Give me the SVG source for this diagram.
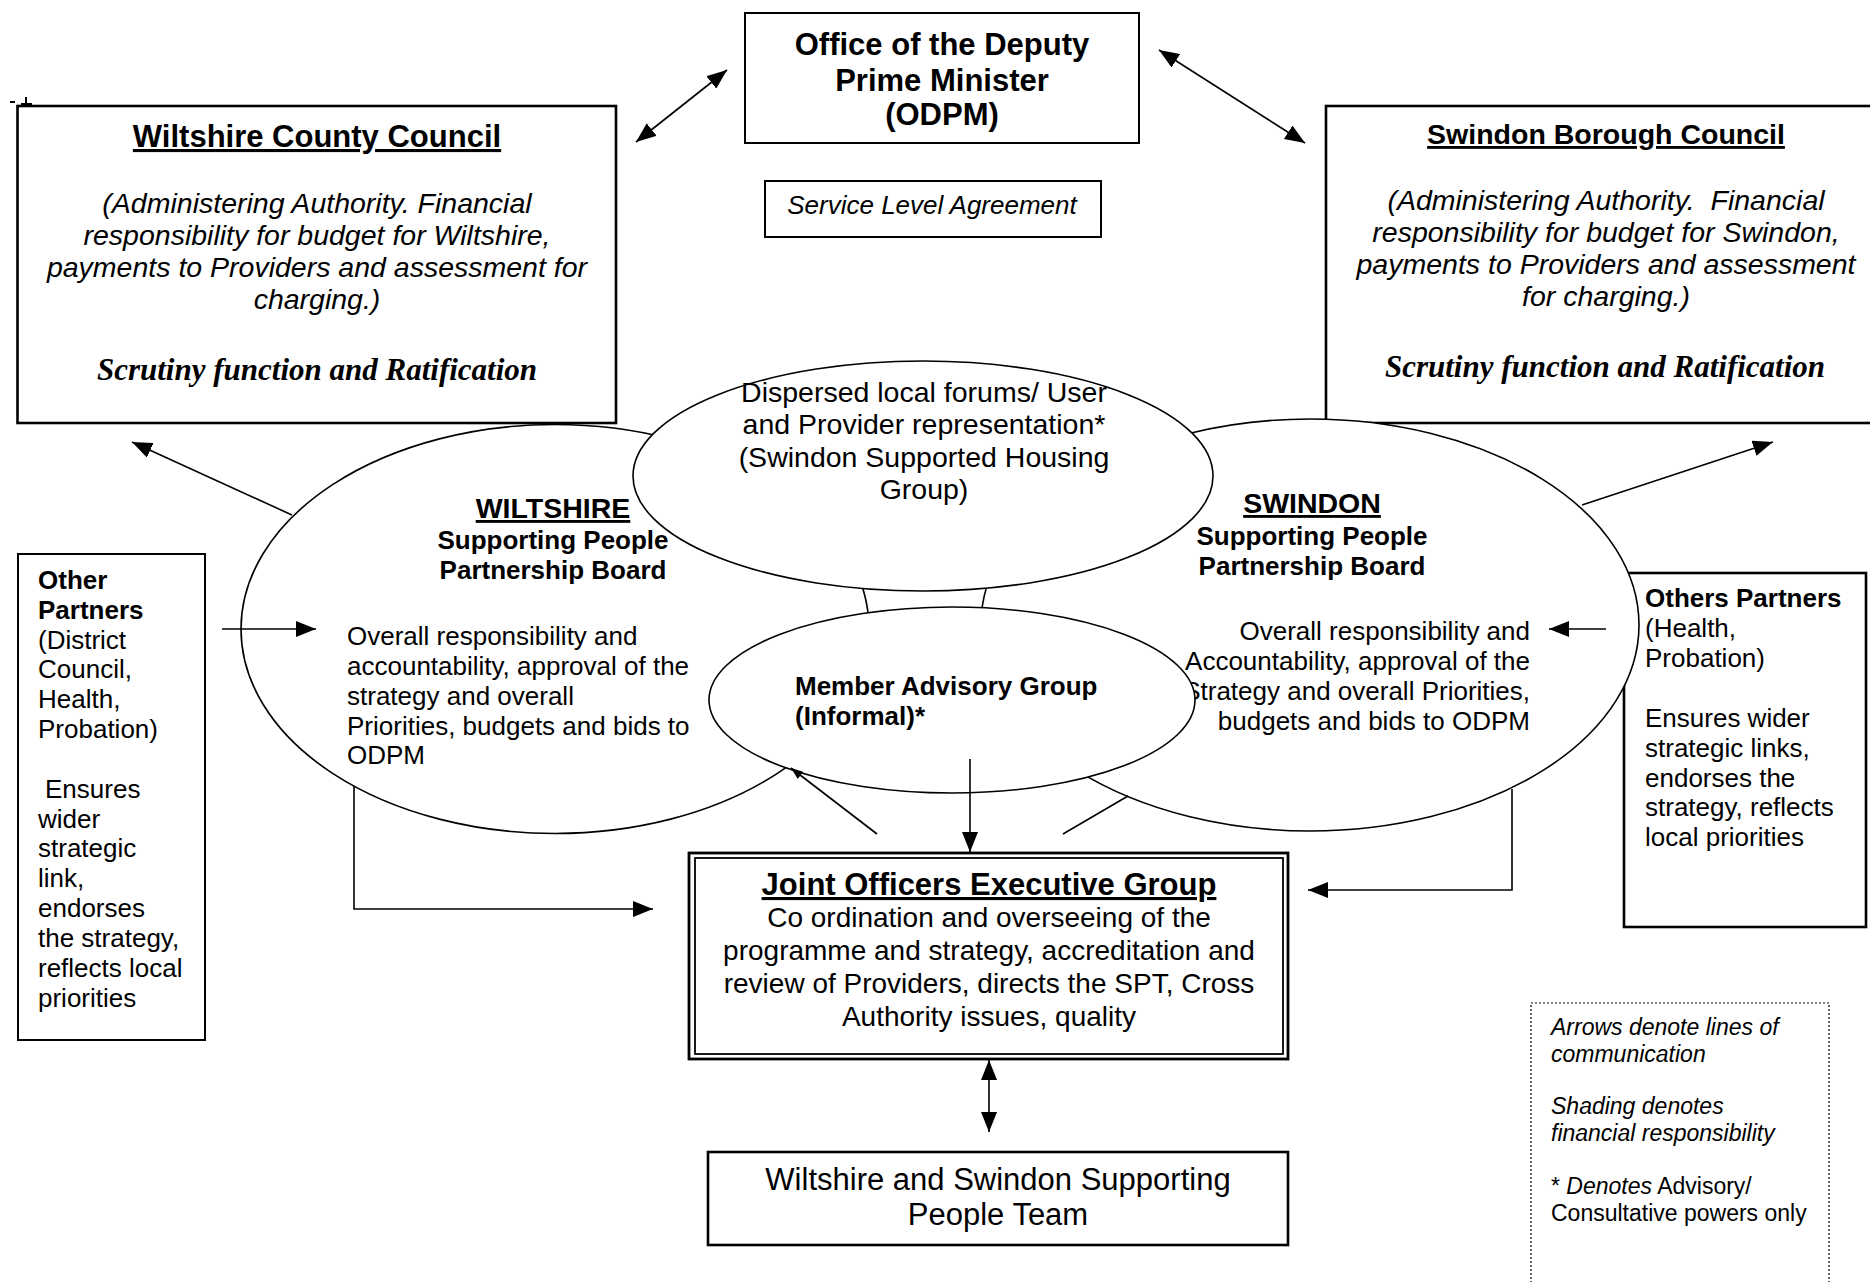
<svg xmlns="http://www.w3.org/2000/svg" width="1870" height="1282" viewBox="0 0 1870 1282">
<style>
text{font-family:"Liberation Sans",Arial,sans-serif;fill:#000}
.box{fill:#fff;stroke:#000;stroke-width:2}
.thick{stroke-width:2.6}
.ell{fill:#fff;stroke:#000;stroke-width:1.6}
.b31{font-size:31px;font-weight:bold}
.b28{font-size:28.5px;font-weight:bold}
.b26{font-size:26px;font-weight:bold}
.r26{font-size:26px}
.r28{font-size:28px}
.r285{font-size:28.5px}
.r31{font-size:31px}
.i28{font-size:28.5px;font-style:italic}
.i26{font-size:26px;font-style:italic}
.i23{font-size:23px;font-style:italic}
.r23{font-size:23px}
.scr{font-family:"Liberation Serif","Times New Roman",serif;font-size:31px;font-weight:bold;font-style:italic}
.u{text-decoration:underline}
.c{text-anchor:middle}
.e{text-anchor:end}
.ln{fill:none;stroke:#000;stroke-width:1.6}
</style>
<defs>
<marker id="ah" markerUnits="userSpaceOnUse" viewBox="0 0 20 16" markerWidth="20" markerHeight="16" refX="20" refY="8" orient="auto-start-reverse"><path d="M0,0 L20,8 L0,16 Z" fill="#000"/></marker>
<marker id="ahs" markerUnits="userSpaceOnUse" viewBox="0 0 12 9" markerWidth="12" markerHeight="9" refX="12" refY="4.5" orient="auto"><path d="M0,0 L12,4.5 L0,9 Z" fill="#000"/></marker>
</defs>
<rect width="1870" height="1282" fill="#fff"/>

<g id="anchor-mark" stroke="#000" stroke-width="2">
<line x1="10" y1="102" x2="15" y2="102"/>
<line x1="21" y1="104" x2="32" y2="104"/>
<line x1="26" y1="97" x2="26" y2="110"/>
</g>

<g id="odpm">
<rect class="box" x="745" y="13" width="394" height="130" stroke-width="1.8"/>
<text class="b31 c" x="942" y="55">Office of the Deputy</text>
<text class="b31 c" x="942" y="91">Prime Minister</text>
<text class="b31 c" x="942" y="125">(ODPM)</text>
</g>

<g id="sla">
<rect class="box" x="765" y="181" width="336" height="56"/>
<text class="i26 c" x="932" y="214">Service Level Agreement</text>
</g>

<g id="wiltshire-county-council">
<rect class="box thick" x="17.5" y="106" width="598.5" height="317"/>
<text class="b31 c u" x="317" y="147">Wiltshire County Council</text>
<text class="i28 c" x="317" y="213">(Administering Authority. Financial</text>
<text class="i28 c" x="317" y="245">responsibility for budget for Wiltshire,</text>
<text class="i28 c" x="317" y="277">payments to Providers and assessment for</text>
<text class="i28 c" x="317" y="309">charging.)</text>
<text class="scr c" x="317" y="380">Scrutiny function and Ratification</text>
</g>

<g id="swindon-borough-council">
<rect class="box thick" x="1326" y="106" width="560" height="317"/>
<text class="b28 c u" x="1606" y="144">Swindon Borough Council</text>
<text class="i28 c" x="1606" y="210" xml:space="preserve">(Administering Authority.  Financial</text>
<text class="i28 c" x="1606" y="242">responsibility for budget for Swindon,</text>
<text class="i28 c" x="1606" y="274">payments to Providers and assessment</text>
<text class="i28 c" x="1606" y="306">for charging.)</text>
<text class="scr c" x="1605" y="377">Scrutiny function and Ratification</text>
</g>

<g id="other-partners-left">
<rect class="box" x="18" y="554" width="187" height="486"/>
<text class="b26" x="38" y="589">Other</text>
<text class="b26" x="38" y="619">Partners</text>
<text class="r26" x="38" y="649">(District</text>
<text class="r26" x="38" y="678">Council,</text>
<text class="r26" x="38" y="708">Health,</text>
<text class="r26" x="38" y="738">Probation)</text>
<text class="r26" x="45" y="798">Ensures</text>
<text class="r26" x="38" y="828">wider</text>
<text class="r26" x="38" y="857">strategic</text>
<text class="r26" x="38" y="887">link,</text>
<text class="r26" x="38" y="917">endorses</text>
<text class="r26" x="38" y="947">the strategy,</text>
<text class="r26" x="38" y="977">reflects local</text>
<text class="r26" x="38" y="1007">priorities</text>
</g>

<g id="other-partners-right">
<rect class="box thick" x="1624" y="573" width="242" height="354"/>
<text class="b26" x="1645" y="607">Others Partners</text>
<text class="r26" x="1645" y="637">(Health,</text>
<text class="r26" x="1645" y="667">Probation)</text>
<text class="r26" x="1645" y="727">Ensures wider</text>
<text class="r26" x="1645" y="757">strategic links,</text>
<text class="r26" x="1645" y="787">endorses the</text>
<text class="r26" x="1645" y="816">strategy, reflects</text>
<text class="r26" x="1645" y="846">local priorities</text>
</g>

<g id="wiltshire-board">
<ellipse class="ell" cx="555" cy="629" rx="314" ry="204.5"/>
<text class="b28 c u" x="553" y="518">WILTSHIRE</text>
<text class="b26 c" x="553" y="549">Supporting People</text>
<text class="b26 c" x="553" y="579">Partnership Board</text>
<text class="r26" x="347" y="645">Overall responsibility and</text>
<text class="r26" x="347" y="675">accountability, approval of the</text>
<text class="r26" x="347" y="705">strategy and overall</text>
<text class="r26" x="347" y="735">Priorities, budgets and bids to</text>
<text class="r26" x="347" y="764">ODPM</text>
</g>

<g id="swindon-board">
<ellipse class="ell" cx="1310" cy="625" rx="329" ry="206"/>
<text class="b28 c u" x="1312" y="513">SWINDON</text>
<text class="b26 c" x="1312" y="545">Supporting People</text>
<text class="b26 c" x="1312" y="575">Partnership Board</text>
<text class="r26 e" x="1530" y="640">Overall responsibility and</text>
<text class="r26 e" x="1530" y="670">Accountability, approval of the</text>
<text class="r26 e" x="1530" y="700">Strategy and overall Priorities,</text>
<text class="r26 e" x="1530" y="730">budgets and bids to ODPM</text>
</g>

<g id="dispersed-forums">
<ellipse class="ell" cx="923" cy="476" rx="290" ry="115"/>
<text class="r285 c" x="924" y="402">Dispersed local forums/ User</text>
<text class="r285 c" x="924" y="434">and Provider representation*</text>
<text class="r285 c" x="924" y="467">(Swindon Supported Housing</text>
<text class="r285 c" x="924" y="499">Group)</text>
</g>

<g id="member-advisory-group">
<ellipse class="ell" cx="952" cy="700" rx="243" ry="93"/>
<text class="b26" x="795" y="695">Member Advisory Group</text>
<text class="b26" x="795" y="725">(Informal)*</text>
</g>

<g id="joint-officers-executive-group">
<rect x="689" y="853" width="599" height="206" fill="#fff" stroke="#000" stroke-width="2.8"/>
<rect x="695" y="858" width="588" height="196" fill="none" stroke="#000" stroke-width="1.8"/>
<text class="b31 c u" x="989" y="895">Joint Officers Executive Group</text>
<text class="r28 c" x="989" y="927">Co ordination and overseeing of the</text>
<text class="r28 c" x="989" y="960">programme and strategy, accreditation and</text>
<text class="r28 c" x="989" y="993">review of Providers, directs the SPT, Cross</text>
<text class="r28 c" x="989" y="1026">Authority issues, quality</text>
</g>

<g id="supporting-people-team">
<rect class="box thick" x="708" y="1152" width="580" height="93"/>
<text class="r31 c" x="998" y="1190">Wiltshire and Swindon Supporting</text>
<text class="r31 c" x="998" y="1225">People Team</text>
</g>

<g id="legend">
<rect x="1531" y="1003" width="298" height="300" fill="none" stroke="#000" stroke-width="1.2" stroke-dasharray="2,2"/>
<text class="i23" x="1551" y="1035">Arrows denote lines of</text>
<text class="i23" x="1551" y="1062">communication</text>
<text class="i23" x="1551" y="1114">Shading denotes</text>
<text class="i23" x="1551" y="1141">financial responsibility</text>
<text class="r23" x="1551" y="1194">* <tspan font-style="italic">Denotes</tspan> Advisory/</text>
<text class="r23" x="1551" y="1221">Consultative powers only</text>
</g>

<g id="connectors">
<line class="ln" x1="636" y1="142" x2="727" y2="70" marker-start="url(#ah)" marker-end="url(#ah)"/>
<line class="ln" x1="1159" y1="50" x2="1305" y2="143" marker-start="url(#ah)" marker-end="url(#ah)"/>
<line class="ln" x1="292" y1="515" x2="132" y2="442" marker-end="url(#ah)"/>
<line class="ln" x1="1582" y1="505" x2="1773" y2="442" marker-end="url(#ah)"/>
<line class="ln" x1="222" y1="629" x2="316" y2="629" marker-end="url(#ah)"/>
<line class="ln" x1="1606" y1="629" x2="1549" y2="629" marker-end="url(#ah)"/>
<line class="ln" x1="970" y1="759" x2="970" y2="852" marker-end="url(#ah)"/>
<line class="ln" x1="877" y1="834" x2="791" y2="768" marker-end="url(#ahs)"/>
<line class="ln" x1="1063" y1="834" x2="1128" y2="796"/>
<path class="ln" d="M354,786 V909 H653" marker-end="url(#ah)"/>
<path class="ln" d="M1512,789 V890 H1308" marker-end="url(#ah)"/>
<line class="ln" x1="989" y1="1060" x2="989" y2="1132" marker-start="url(#ah)" marker-end="url(#ah)"/>
</g>
</svg>
